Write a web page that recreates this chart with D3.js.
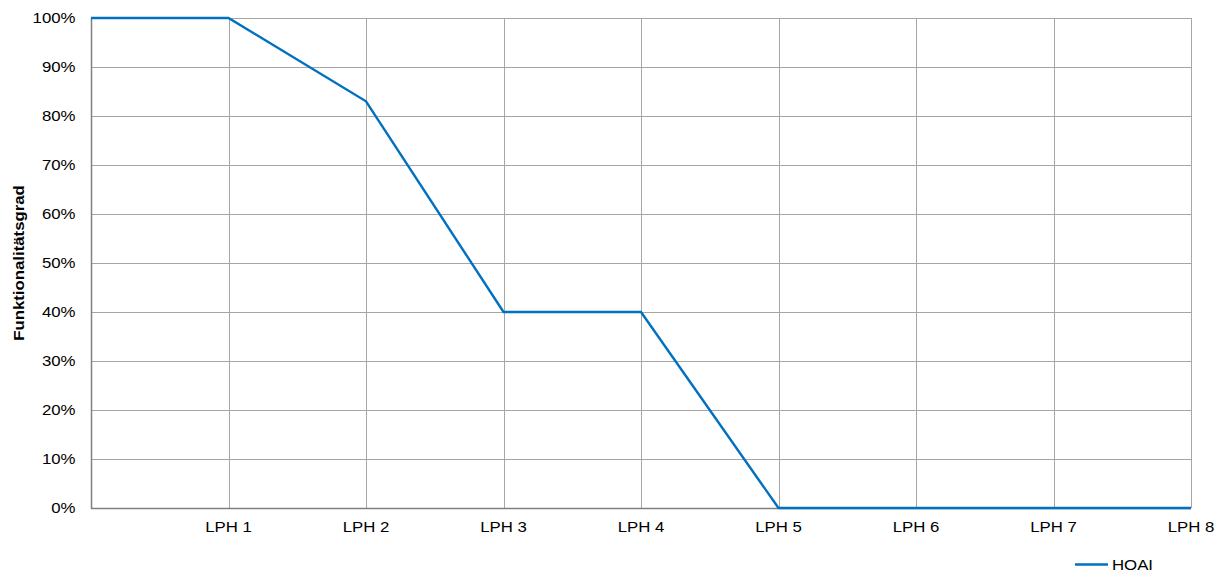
<!DOCTYPE html>
<html><head><meta charset="utf-8">
<script src="https://cdn.jsdelivr.net/npm/d3@7"></script>
<style>body{margin:0;background:#fff;} svg{display:block;font-family:"Liberation Sans",Arial,sans-serif;}</style>
</head><body>
<svg id="c" width="1223" height="572"></svg>
<script>
const categories = ["", "LPH 1", "LPH 2", "LPH 3", "LPH 4", "LPH 5", "LPH 6", "LPH 7", "LPH 8"];
const hoaiValues = [100, 100, 83, 40, 40, 0, 0, 0, 0];
const yTicks = [0, 10, 20, 30, 40, 50, 60, 70, 80, 90, 100];
const seriesName = "HOAI";
const yTitle = "Funktionalitätsgrad";

(function () {
const svg = d3.select("#c");
const pL = 91, pR = 1191, pT = 18, pB = 508;
const sx = 1.12;
const x = d3.scalePoint().domain(d3.range(categories.length)).range([pL, pR]);
const y = d3.scaleLinear().domain([0, 100]).range([pB, pT]);

// horizontal grid
svg.append("g").selectAll("line").data(yTicks.filter(d => d > 0)).join("line")
  .attr("x1", pL).attr("x2", pR)
  .attr("y1", d => y(d) + 0.5).attr("y2", d => y(d) + 0.5)
  .attr("stroke", "#a6a6a6").attr("stroke-width", 1);
// vertical grid
svg.append("g").selectAll("line").data(d3.range(1, categories.length)).join("line")
  .attr("x1", d => Math.round(x(d)) + 0.5).attr("x2", d => Math.round(x(d)) + 0.5)
  .attr("y1", pT).attr("y2", pB)
  .attr("stroke", "#a6a6a6").attr("stroke-width", 1);

// axes lines
svg.append("line").attr("x1", pL + 0.5).attr("x2", pL + 0.5).attr("y1", pT).attr("y2", pB + 1)
  .attr("stroke", "#808080").attr("stroke-width", 1.5);
svg.append("line").attr("x1", pL).attr("x2", pR).attr("y1", pB + 0.5).attr("y2", pB + 0.5)
  .attr("stroke", "#808080").attr("stroke-width", 1.5);

// y tick labels
svg.append("g").selectAll("text").data(yTicks).join("text")
  .attr("transform", d => `translate(75.5,${y(d) + 5.3}) scale(${sx},1)`)
  .attr("text-anchor", "end").attr("font-size", 15).attr("fill", "#000")
  .text(d => d + "%");

// x tick labels
svg.append("g").selectAll("text").data(d3.range(categories.length)).join("text")
  .attr("transform", d => `translate(${x(d)},531.5) scale(${sx},1)`)
  .attr("text-anchor", "middle").attr("font-size", 15).attr("fill", "#000")
  .text(d => categories[d]);

// y title
svg.append("text").attr("transform", `translate(24,263) rotate(-90) scale(${sx},1)`)
  .attr("text-anchor", "middle").attr("font-size", 15).attr("font-weight", "bold")
  .text(yTitle);

// line
svg.append("path").datum(hoaiValues)
  .attr("d", d3.line().x((d, i) => x(i)).y(d => y(d)))
  .attr("fill", "none").attr("stroke", "#0070C0").attr("stroke-width", 2.4);

// legend
svg.append("line").attr("x1", 1075).attr("x2", 1108).attr("y1", 564.5).attr("y2", 564.5)
  .attr("stroke", "#0070C0").attr("stroke-width", 2.5);
svg.append("text").attr("transform", `translate(1112,570) scale(${sx},1)`)
  .attr("font-size", 15).text(seriesName);
})();
</script>
</body></html>
